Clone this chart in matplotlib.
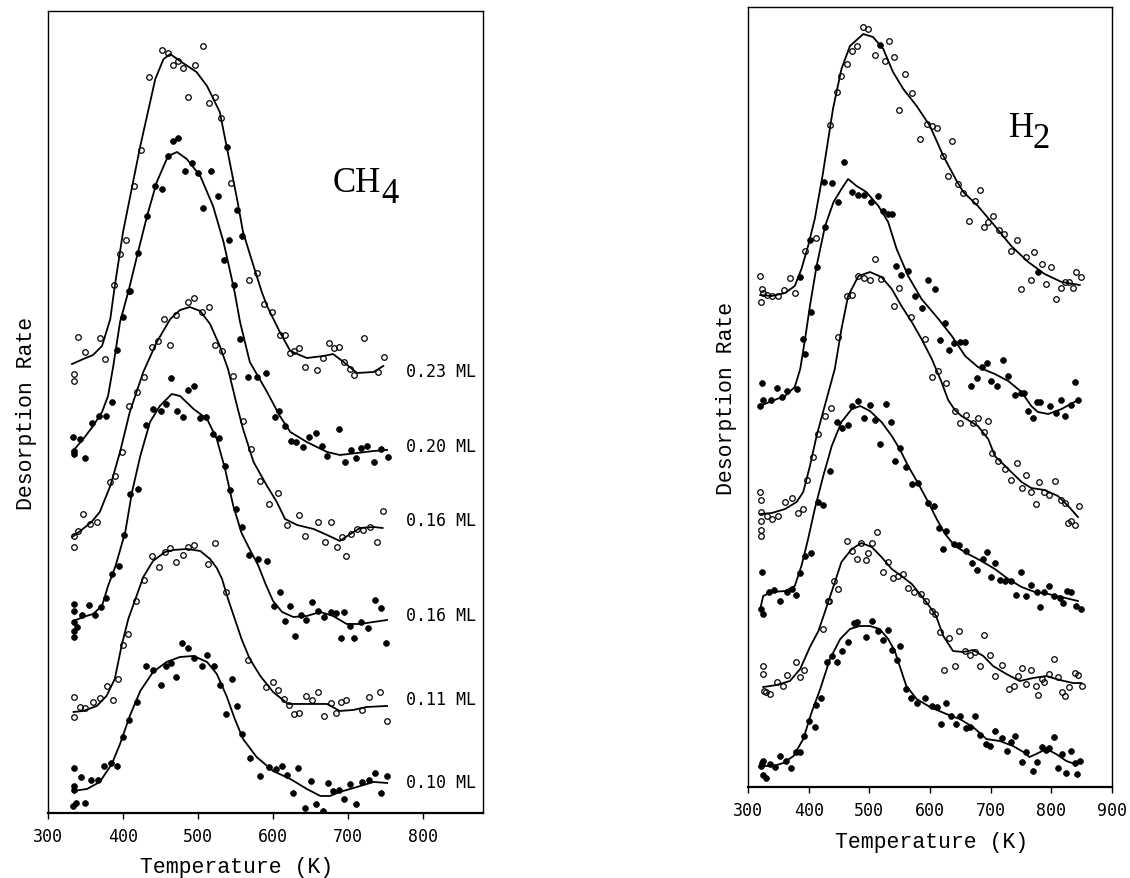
import matplotlib
matplotlib.use("Agg")
from matplotlib import pyplot as plt

# Temperature programmed desorption traces, CH4 (left) and H2 (right)
# every trace: smooth fit curve + measured points, (T in K, rate in arb. units)

# ---- CH4 panel ----
ch4_023_curve = [(332, 449), (347, 454), (360, 458), (372, 467), (383, 494), (389, 527), (400, 581), (423, 667),
                 (443, 734), (454, 754), (463, 759), (476, 752), (498, 741), (512, 727), (529, 701), (538, 667),
                 (552, 614), (560, 581), (574, 547), (585, 521), (592, 507), (609, 481), (623, 462), (645, 455),
                 (667, 457), (680, 459), (694, 451), (712, 440), (734, 441), (747, 447)]
ch4_023_pts = [(452, 763), (460, 760), (473, 752), (467, 748), (480, 745), (496, 748), (507, 767), (434, 736),
               (487, 716), (515, 710), (523, 716), (530, 695), (424, 663), (414, 627), (404, 573), (396, 559),
               (388, 528), (544, 630), (578, 540), (568, 533), (340, 476), (349, 461), (369, 475), (376, 454),
               (334, 439), (334, 432), (588, 509), (598, 501), (609, 478), (616, 478), (623, 460), (628, 462),
               (635, 465), (643, 446), (658, 443), (666, 455), (674, 470), (681, 465), (688, 466), (695, 451),
               (703, 444), (708, 438), (721, 475), (740, 441), (748, 456)]

ch4_020_curve = [(332, 361), (347, 374), (360, 387), (372, 401), (380, 417), (387, 447), (396, 491), (408, 524),
                 (420, 561), (432, 597), (445, 631), (460, 657), (472, 661), (485, 654), (503, 637), (520, 607),
                 (534, 571), (545, 534), (549, 520), (556, 491), (569, 451), (592, 421), (609, 397), (623, 381),
                 (645, 371), (672, 361), (689, 358), (712, 360), (734, 362), (752, 363)]
ch4_020_pts = [(466, 672), (473, 675), (460, 657), (492, 650), (482, 642), (500, 640), (517, 642), (443, 627),
               (452, 624), (507, 605), (526, 617), (432, 597), (420, 560), (408, 522), (538, 666), (559, 577),
               (552, 603), (541, 573), (534, 553), (548, 528), (333, 376), (343, 374), (334, 362), (335, 359),
               (349, 355), (358, 390), (368, 397), (377, 397), (385, 411), (392, 463), (400, 496), (409, 522),
               (556, 474), (567, 436), (579, 436), (590, 440), (603, 396), (608, 402), (616, 387), (624, 372),
               (631, 371), (640, 366), (648, 376), (657, 380), (665, 367), (672, 357), (688, 384), (696, 351),
               (704, 363), (711, 355), (717, 365), (725, 367), (734, 351), (744, 364), (753, 356)]

ch4_016a_curve = [(332, 276), (343, 282), (358, 291), (369, 301), (383, 327), (396, 361), (409, 401), (427, 441),
                  (445, 471), (463, 494), (476, 503), (489, 506), (503, 502), (516, 489), (529, 467), (540, 444),
                  (552, 407), (560, 384), (574, 351), (592, 327), (605, 311), (616, 294), (632, 288), (654, 284),
                  (672, 278), (689, 272), (703, 279), (716, 285), (734, 286), (746, 285)]
ch4_016a_pts = [(334, 277), (335, 266), (340, 282), (347, 299), (356, 289), (365, 291), (382, 331), (389, 337),
                (398, 361), (408, 407), (418, 421), (428, 436), (439, 466), (447, 472), (463, 468), (455, 494),
                (471, 498), (486, 511), (495, 515), (505, 501), (514, 506), (523, 468), (532, 462), (546, 437),
                (560, 392), (570, 364), (583, 332), (595, 309), (606, 320), (618, 288), (634, 298), (643, 277),
                (660, 291), (669, 271), (677, 291), (685, 266), (692, 276), (697, 257), (704, 279), (712, 284),
                (720, 283), (729, 286), (738, 271), (747, 302)]

ch4_016b_curve = [(334, 192), (347, 196), (360, 199), (372, 207), (380, 227), (390, 247), (403, 281), (412, 321),
                  (423, 357), (436, 391), (449, 407), (465, 419), (476, 417), (494, 404), (512, 394), (525, 374),
                  (536, 344), (547, 307), (558, 280), (570, 262), (580, 248), (590, 229), (600, 212), (612, 201),
                  (627, 196), (645, 197), (663, 201), (680, 197), (698, 189), (716, 189), (734, 191), (752, 193)]
ch4_016b_pts = [(394, 247), (385, 239), (401, 278), (409, 319), (420, 324), (431, 388), (440, 404), (450, 402),
                (457, 409), (464, 435), (472, 402), (480, 396), (486, 423), (495, 427), (503, 395), (510, 396),
                (520, 379), (528, 375), (536, 347), (543, 323), (551, 304), (558, 286), (568, 258), (580, 254),
                (592, 252), (334, 209), (334, 202), (334, 191), (334, 182), (335, 176), (338, 186), (345, 198),
                (354, 208), (363, 198), (370, 206), (377, 215), (609, 221), (601, 207), (616, 192), (622, 207),
                (629, 177), (637, 198), (644, 193), (652, 211), (660, 202), (668, 196), (677, 201), (684, 200),
                (691, 175), (695, 201), (702, 187), (708, 175), (717, 191), (727, 185), (736, 213), (744, 205),
                (751, 170)]

ch4_011_curve = [(334, 101), (347, 102), (365, 107), (378, 117), (389, 134), (398, 167), (407, 194), (418, 217),
                 (427, 236), (440, 252), (456, 261), (467, 263), (485, 264), (503, 262), (516, 254), (525, 245),
                 (532, 234), (540, 214), (549, 194), (558, 174), (569, 154), (583, 137), (600, 121), (620, 109),
                 (645, 109), (672, 109), (689, 102), (707, 103), (725, 106), (752, 107)]
ch4_011_pts = [(439, 257), (456, 261), (463, 265), (470, 251), (480, 258), (487, 266), (495, 268), (513, 249),
               (522, 270), (334, 116), (335, 96), (343, 106), (349, 105), (360, 111), (369, 115), (378, 127),
               (386, 113), (393, 134), (400, 168), (407, 179), (417, 212), (428, 233), (448, 246), (537, 221),
               (567, 153), (590, 126), (600, 131), (607, 123), (615, 114), (621, 108), (628, 99), (635, 100),
               (644, 117), (652, 113), (660, 121), (668, 97), (677, 110), (684, 100), (690, 111), (697, 113),
               (718, 103), (728, 116), (743, 121), (752, 92)]

ch4_010_curve = [(334, 22), (352, 24), (369, 31), (385, 49), (396, 69), (409, 97), (423, 122), (440, 141),
                 (458, 151), (476, 156), (494, 157), (512, 151), (525, 139), (538, 117), (549, 94), (560, 74),
                 (578, 56), (600, 42), (623, 34), (645, 24), (663, 17), (676, 17), (689, 21), (712, 26), (734, 31),
                 (752, 30)]
ch4_010_pts = [(334, 45), (334, 27), (334, 23), (333, 7), (337, 10), (349, 10), (344, 36), (357, 33), (366, 33),
               (375, 47), (384, 50), (392, 47), (400, 76), (408, 93), (419, 111), (430, 147), (440, 143), (450, 128),
               (457, 147), (464, 150), (471, 136), (478, 170), (486, 165), (495, 155), (505, 147), (512, 158),
               (521, 147), (529, 128), (537, 99), (545, 134), (552, 107), (559, 79), (569, 55), (582, 37), (595, 46),
               (604, 44), (612, 47), (618, 38), (626, 20), (633, 45), (642, 5), (650, 32), (657, 9), (666, 2),
               (673, 30), (680, 22), (688, 23), (695, 14), (702, 29), (710, 9), (719, 31), (728, 33), (736, 40),
               (744, 20), (752, 37)]

ch4_labels = ["0.23 ML", "0.20 ML", "0.16 ML", "0.16 ML", "0.11 ML", "0.10 ML"]
ch4_label_y = [442, 367, 293, 198, 114, 31]

# ---- H2 panel ----
h1_curve = [(320, 492), (339, 491), (361, 494), (377, 501), (388, 518), (399, 541), (410, 568), (423, 612),
            (440, 678), (454, 718), (468, 741), (490, 753), (506, 750), (523, 738), (539, 715), (556, 698),
            (578, 681), (600, 661), (622, 631), (644, 606), (655, 595), (679, 581), (707, 561), (734, 541),
            (762, 525), (789, 513), (817, 505), (847, 502)]
h1_pts = [(320, 511), (323, 498), (321, 485), (325, 494), (331, 492), (339, 491), (349, 491), (360, 497), (369, 509),
          (377, 494), (394, 536), (412, 549), (435, 662), (446, 695), (453, 711), (463, 723), (471, 736), (479, 741),
          (490, 760), (498, 758), (509, 732), (526, 726), (533, 746), (540, 730), (549, 677), (559, 713), (571, 694),
          (584, 648), (595, 663), (604, 661), (612, 659), (621, 631), (629, 611), (637, 646), (646, 603), (655, 594),
          (665, 566), (674, 586), (682, 597), (689, 560), (696, 565), (704, 571), (714, 557), (722, 553), (733, 536),
          (743, 547), (750, 498), (758, 530), (766, 507), (772, 535), (785, 523), (792, 503), (799, 520), (807, 488),
          (816, 499), (823, 505), (830, 505), (836, 499), (841, 515), (849, 510)]

h2_curve = [(320, 381), (339, 386), (361, 391), (377, 400), (386, 418), (394, 448), (402, 481), (413, 521),
            (427, 561), (441, 585), (454, 598), (465, 608), (479, 601), (495, 595), (515, 581), (531, 565),
            (545, 538), (564, 511), (586, 488), (614, 468), (636, 451), (658, 431), (679, 420), (707, 413),
            (729, 406), (751, 395), (767, 381), (778, 375), (795, 373), (817, 378), (844, 387)]
h2_pts = [(320, 381), (323, 404), (325, 387), (338, 387), (347, 399), (356, 390), (365, 396), (380, 398), (386, 510),
          (402, 547), (390, 448), (394, 433), (403, 475), (413, 520), (425, 605), (427, 560), (439, 604), (449, 585),
          (458, 625), (472, 595), (482, 592), (492, 592), (503, 585), (514, 591), (517, 742), (523, 576), (531, 573),
          (537, 573), (544, 521), (553, 512), (563, 516), (575, 491), (587, 479), (597, 507), (608, 498), (616, 447),
          (625, 464), (631, 437), (640, 444), (649, 445), (658, 445), (667, 401), (677, 409), (686, 420), (694, 424),
          (701, 406), (711, 401), (720, 427), (729, 411), (740, 392), (750, 394), (755, 394), (762, 376), (770, 369),
          (777, 385), (782, 385), (798, 381), (807, 374), (816, 387), (823, 371), (832, 382), (839, 405), (844, 387),
          (778, 515)]

h3_curve = [(320, 273), (339, 274), (361, 278), (380, 285), (391, 295), (402, 321), (413, 351), (425, 378),
            (443, 418), (454, 458), (465, 491), (482, 511), (501, 515), (520, 510), (537, 498), (553, 481),
            (570, 465), (586, 448), (603, 428), (619, 405), (630, 387), (641, 377), (652, 371), (679, 361),
            (696, 348), (707, 331), (729, 318), (751, 305), (767, 299), (789, 297), (811, 291), (828, 281),
            (844, 270)]
h3_pts = [(320, 295), (321, 287), (321, 275), (321, 266), (321, 257), (321, 251), (331, 271), (339, 268), (350, 271),
          (361, 285), (372, 289), (382, 274), (390, 278), (398, 307), (407, 330), (416, 353), (427, 371), (437, 379),
          (448, 450), (463, 491), (472, 492), (482, 511), (492, 509), (501, 507), (509, 528), (520, 508), (541, 481),
          (549, 499), (568, 470), (592, 448), (603, 410), (614, 416), (626, 404), (641, 376), (650, 364), (660, 372),
          (671, 364), (679, 369), (689, 355), (696, 366), (703, 334), (712, 326), (723, 318), (734, 307), (744, 324),
          (751, 299), (759, 312), (766, 295), (774, 283), (780, 305), (788, 295), (796, 292), (806, 306), (816, 287),
          (823, 284), (828, 264), (833, 266), (839, 262), (845, 281)]

h4_curve = [(320, 178), (325, 191), (339, 195), (361, 196), (377, 201), (388, 221), (399, 248), (410, 278),
            (424, 311), (438, 341), (454, 365), (471, 378), (485, 381), (501, 376), (520, 365), (537, 351),
            (550, 338), (564, 321), (581, 303), (597, 285), (611, 268), (625, 253), (641, 241), (663, 233),
            (685, 226), (707, 218), (729, 208), (751, 200), (773, 195), (795, 193), (817, 190), (844, 186)]
h4_pts = [(321, 178), (325, 173), (323, 215), (334, 195), (343, 197), (353, 186), (364, 195), (372, 198), (379, 192),
          (386, 214), (394, 231), (404, 234), (415, 285), (424, 282), (435, 316), (455, 359), (464, 362), (446, 365),
          (472, 381), (482, 386), (492, 369), (501, 382), (510, 367), (517, 343), (527, 383), (535, 365), (543, 326),
          (550, 339), (560, 320), (571, 303), (580, 304), (596, 284), (607, 281), (615, 259), (627, 256), (622, 238),
          (639, 243), (648, 242), (659, 236), (670, 224), (678, 217), (687, 228), (694, 235), (700, 210), (707, 224),
          (715, 207), (723, 206), (733, 206), (742, 192), (750, 215), (759, 191), (767, 202), (781, 180), (777, 195),
          (788, 195), (796, 201), (805, 191), (814, 189), (820, 184), (826, 196), (833, 195), (840, 181), (849, 178)]

h5_curve = [(325, 100), (347, 102), (369, 106), (386, 118), (402, 140), (416, 156), (430, 181), (441, 201),
            (454, 225), (471, 238), (487, 244), (504, 240), (520, 230), (537, 218), (553, 211), (570, 203),
            (586, 191), (600, 180), (610, 171), (622, 151), (638, 136), (655, 135), (671, 137), (688, 131),
            (704, 121), (726, 113), (748, 106), (770, 109), (792, 111), (814, 107), (836, 104), (850, 104)]
h5_pts = [(463, 246), (471, 236), (479, 228), (486, 244), (497, 234), (505, 244), (513, 255), (523, 215), (531, 225),
          (539, 209), (547, 211), (555, 213), (564, 199), (574, 195), (585, 193), (594, 186), (603, 176), (608, 173),
          (442, 206), (449, 198), (433, 186), (325, 121), (324, 113), (326, 96), (330, 95), (337, 93), (348, 105),
          (357, 101), (365, 112), (379, 125), (386, 110), (393, 117), (423, 158), (432, 186), (494, 227), (616, 155),
          (623, 117), (632, 149), (642, 121), (648, 156), (657, 136), (666, 132), (675, 135), (682, 121), (689, 152),
          (699, 132), (708, 111), (719, 122), (730, 98), (738, 101), (745, 111), (751, 119), (758, 103), (766, 117),
          (774, 101), (778, 92), (784, 108), (788, 105), (796, 113), (804, 128), (811, 110), (817, 95), (823, 91),
          (830, 100), (839, 114), (844, 112), (851, 101)]

h6_curve = [(321, 21), (342, 21), (358, 24), (375, 31), (391, 48), (405, 75), (419, 98), (435, 128), (452, 148),
            (468, 158), (484, 161), (501, 161), (517, 158), (531, 148), (542, 136), (550, 121), (561, 101),
            (578, 88), (600, 80), (627, 73), (649, 68), (671, 60), (693, 48), (715, 46), (737, 41), (754, 35),
            (764, 30), (775, 33), (792, 38), (808, 33), (825, 26), (839, 23), (847, 26)]
h6_pts = [(323, 24), (325, 26), (321, 21), (324, 12), (330, 9), (336, 23), (344, 20), (353, 31), (362, 26), (371, 19),
          (379, 35), (386, 35), (393, 51), (401, 66), (410, 60), (412, 82), (420, 89), (430, 125), (439, 131),
          (447, 125), (455, 136), (464, 145), (475, 164), (480, 165), (494, 150), (504, 166), (514, 156), (523, 147),
          (530, 157), (538, 137), (545, 127), (551, 141), (560, 98), (568, 89), (579, 84), (592, 89), (603, 81),
          (611, 80), (618, 63), (626, 84), (634, 71), (643, 63), (650, 71), (659, 59), (666, 60), (674, 71), (682, 52),
          (692, 43), (699, 41), (708, 56), (718, 49), (727, 36), (734, 45), (741, 51), (751, 25), (758, 35), (770, 16),
          (777, 25), (784, 40), (791, 37), (797, 39), (804, 50), (811, 19), (817, 33), (825, 14), (832, 36), (839, 24),
          (843, 13), (847, 26)]

mono = "DejaVu Sans Mono"
courier = "Liberation Mono"
serif = "Liberation Serif"

fig = plt.figure(figsize=(11.3, 8.79), dpi=100)
ax1 = fig.add_axes([0.0425, 0.0740, 0.385, 0.9123])
ax2 = fig.add_axes([0.662, 0.1035, 0.322, 0.8874])


def draw(ax, curve, pts, filled):
    ax.plot([p[0] for p in curve], [p[1] for p in curve], color="black", lw=1.3, zorder=2)
    if filled:
        ax.plot([p[0] for p in pts], [p[1] for p in pts], "o", ms=4.2, mfc="black", mec="black",
                mew=0.5, zorder=3)
    else:
        ax.plot([p[0] for p in pts], [p[1] for p in pts], "o", ms=4.0, mfc="none", mec="black",
                mew=0.9, zorder=3)


ch4_traces = [(ch4_023_curve, ch4_023_pts, False), (ch4_020_curve, ch4_020_pts, True),
              (ch4_016a_curve, ch4_016a_pts, False), (ch4_016b_curve, ch4_016b_pts, True),
              (ch4_011_curve, ch4_011_pts, False), (ch4_010_curve, ch4_010_pts, True)]
h2_traces = [(h1_curve, h1_pts, False), (h2_curve, h2_pts, True), (h3_curve, h3_pts, False),
             (h4_curve, h4_pts, True), (h5_curve, h5_pts, False), (h6_curve, h6_pts, True)]

for c, p, f in ch4_traces:
    draw(ax1, c, p, f)
for c, p, f in h2_traces:
    draw(ax2, c, p, f)

for lab, y in zip(ch4_labels, ch4_label_y):
    ax1.text(777, y, lab, fontsize=12, family=mono, va="center", ha="left")

# species labels, big subscript like the original typesetting
ax1.text(679, 622, "CH", fontsize=25, family=serif, va="baseline")
ax1.text(744, 611, "4", fontsize=25, family=serif, va="baseline")
ax2.text(731, 651, "H", fontsize=25, family=serif, va="baseline")
ax2.text(769, 640, "2", fontsize=25, family=serif, va="baseline")

ax1.set_xlim(300, 880)
ax1.set_ylim(0, 802)
ax1.set_xticks([300, 400, 500, 600, 700, 800])
ax2.set_xlim(300, 900)
ax2.set_ylim(0, 780)
ax2.set_xticks([300, 400, 500, 600, 700, 800, 900])

for ax in (ax1, ax2):
    ax.set_yticks([])
    ax.tick_params(axis="x", direction="out", length=4, width=1, pad=6)
    for t in ax.get_xticklabels():
        t.set_fontfamily(mono)
        t.set_fontsize(12)
    for s in ax.spines.values():
        s.set_linewidth(1.0)
    ax.spines["bottom"].set_linewidth(1.6)
    ax.set_ylabel("Desorption Rate", family=courier, fontsize=15.5, labelpad=8)

ax1.set_xlabel("Temperature (K)", family=courier, fontsize=15.5)
ax1.xaxis.set_label_coords(0.434, -0.054)
ax2.set_xlabel("Temperature (K)", family=courier, fontsize=15.5)
ax2.xaxis.set_label_coords(0.505, -0.056)

fig.savefig("out.png", dpi=100)
